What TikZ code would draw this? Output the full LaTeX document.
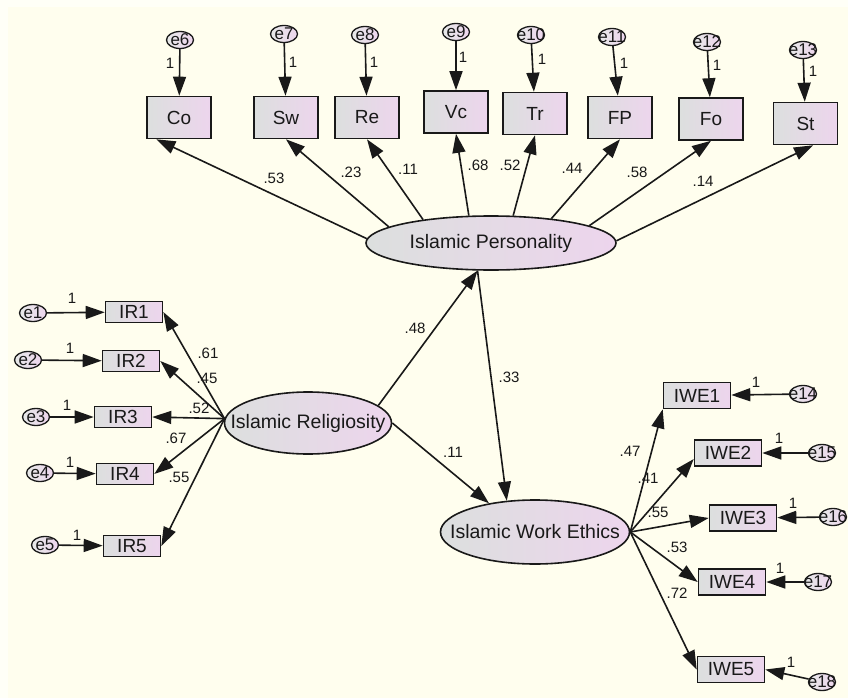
\documentclass[tikz,border=0pt]{standalone}
\usepackage{fontspec}
\setmainfont{Liberation Sans}
\usetikzlibrary{arrows.meta,shapes.geometric}

\definecolor{paper}{RGB}{255,254,238}
\definecolor{paperedge}{RGB}{255,255,247}
\definecolor{boxgray}{RGB}{220,223,222}
\definecolor{boxpink}{RGB}{237,213,237}
\definecolor{ink}{RGB}{25,25,25}

\tikzset{
    box/.style={draw=ink, line width=1.6pt, left color=boxgray, right color=boxpink,
        inner sep=0pt, text=ink, font=\fontsize{19}{19}\selectfont},
    topbox/.style={box, minimum width=64pt, minimum height=42pt},
    irbox/.style={box, minimum width=57pt, minimum height=21pt},
    iwebox/.style={box, minimum width=67pt, minimum height=26pt},
    latent/.style={ellipse, draw=ink, line width=1.6pt, left color=boxgray, right color=boxpink,
        inner xsep=-70pt, inner ysep=-4pt, text=ink, font=\fontsize{19.5}{19.5}\selectfont},
    err/.style={ellipse, draw=ink, line width=1.3pt, left color=boxgray!70!white, right color=boxpink,
        minimum width=27pt, minimum height=17pt, inner xsep=-12pt, inner ysep=-3pt, text=ink,
        font=\fontsize{17}{17}\selectfont},
    load/.style={draw=ink, line width=1.6pt, -{Triangle[length=19pt,width=13pt]}},
    coef/.style={inner sep=0pt, text=ink, font=\fontsize{15}{15}\selectfont},
}

\begin{document}
\begin{tikzpicture}[x=1pt, y=-1pt]
    \useasboundingbox (0,0) rectangle (848,698);
    \fill[paperedge] (0,0) rectangle (848,698);
    \fill[paper] (8,7) rectangle (848,698);

    % Islamic Personality
    \node[latent, minimum width=250pt, minimum height=54pt] (ip) at (491,243) {Islamic Personality};
    \node[topbox] (co) at (179,117.5) {Co};
    \node[topbox] (sw) at (286,117.5) {Sw};
    \node[topbox] (re) at (367,117.5) {Re};
    \node[topbox] (vc) at (456,112) {Vc};
    \node[topbox] (tr) at (535,113.5) {Tr};
    \node[topbox] (fp) at (620,117.5) {FP};
    \node[topbox] (fo) at (711,119) {Fo};
    \node[topbox] (st) at (805.5,123.5) {St};

    \node[err] (e6) at (180,40) {e6};
    \node[err] (e7) at (284,34) {e7};
    \node[err] (e8) at (365,35) {e8};
    \node[err] (e9) at (456,32) {e9};
    \node[err] (e10) at (531,35) {e10};
    \node[err] (e11) at (612,37) {e11};
    \node[err] (e12) at (707,42) {e12};
    \node[err] (e13) at (803,50) {e13};

    \draw[load] (e6) -- (co);
    \draw[load] (e7) -- (sw);
    \draw[load] (e8) -- (re);
    \draw[load] (e9) -- (vc);
    \draw[load] (e10) -- (tr);
    \draw[load] (e11) -- (fp);
    \draw[load] (e12) -- (fo);
    \draw[load] (e13) -- (st);
    \node[coef] (o6) at (170,63) {1};
    \node[coef] (o7) at (293,62) {1};
    \node[coef] (o8) at (374,62) {1};
    \node[coef] (o9) at (463,57) {1};
    \node[coef] (o10) at (542,59) {1};
    \node[coef] (o11) at (624,63) {1};
    \node[coef] (o12) at (717,65) {1};
    \node[coef] (o13) at (813,71) {1};

    \draw[load] (ip.178) -- (co.224);
    \draw[load] (ip.171) -- (sw.south);
    \draw[load] (ip.161) -- (re.south);
    \draw[load] (ip.129) -- (vc.south);
    \draw[load] (ip.51) -- (tr.south);
    \draw[load] (ip.22) -- (fp.south);
    \draw[load] (ip.10) -- (fo.south);
    \draw[load] (ip.1) -- (st.289);
    \node[coef] (cco) at (274,178) {.53};
    \node[coef] (csw) at (351,172) {.23};
    \node[coef] (cre) at (408,169) {.11};
    \node[coef] (cvc) at (478,165) {.68};
    \node[coef] (ctr) at (510,165) {.52};
    \node[coef] (cfp) at (572,168) {.44};
    \node[coef] (cfo) at (637,172) {.58};
    \node[coef] (cst) at (703,181) {.14};

    % Islamic Religiosity
    \node[latent, minimum width=167pt, minimum height=62pt] (ir) at (308,423) {Islamic Religiosity};
    \node[irbox] (ir1) at (134,312) {IR1};
    \node[irbox] (ir2) at (131,361) {IR2};
    \node[irbox] (ir3) at (123,417) {IR3};
    \node[irbox] (ir4) at (125,474) {IR4};
    \node[irbox] (ir5) at (132,546) {IR5};

    \node[err] (e1) at (33,313) {e1};
    \node[err] (e2) at (28,360) {e2};
    \node[err] (e3) at (36,417) {e3};
    \node[err] (e4) at (40,473) {e4};
    \node[err] (e5) at (45,545) {e5};

    \draw[load] (e1) -- (ir1);
    \draw[load] (e2) -- (ir2);
    \draw[load] (e3) -- (ir3);
    \draw[load] (e4) -- (ir4);
    \draw[load] (e5) -- (ir5);
    \node[coef] (o1) at (72,298) {1};
    \node[coef] (o2) at (70,348) {1};
    \node[coef] (o3) at (67,405) {1};
    \node[coef] (o4) at (70,462) {1};
    \node[coef] (o5) at (77,535) {1};

    \draw[load] (ir.177) -- (ir1.east);
    \draw[load] (ir.177) -- (ir2.east);
    \draw[load] (ir.177) -- (ir3.east);
    \draw[load] (ir.177) -- (ir4.east);
    \draw[load] (ir.177) -- (ir5.east);
    \node[coef] (cir1) at (208,353) {.61};
    \node[coef] (cir2) at (207,378) {.45};
    \node[coef] (cir3) at (199,408) {.52};
    \node[coef] (cir4) at (176,438) {.67};
    \node[coef] (cir5) at (179,477) {.55};

    % Islamic Work Ethics
    \node[latent, minimum width=189pt, minimum height=64pt] (iwe) at (535,532) {Islamic Work Ethics};
    \node[iwebox] (iwe1) at (697,395.5) {IWE1};
    \node[iwebox] (iwe2) at (728,453) {IWE2};
    \node[iwebox] (iwe3) at (743,518) {IWE3};
    \node[iwebox] (iwe4) at (732,582) {IWE4};
    \node[iwebox] (iwe5) at (731,669.5) {IWE5};

    \node[err] (e14) at (803,394) {e14};
    \node[err] (e15) at (822,453) {e15};
    \node[err] (e16) at (833,517) {e16};
    \node[err] (e17) at (818,582) {e17};
    \node[err] (e18) at (822,682) {e18};

    \draw[load] (e14) -- (iwe1);
    \draw[load] (e15) -- (iwe2);
    \draw[load] (e16) -- (iwe3);
    \draw[load] (e17) -- (iwe4);
    \draw[load] (e18) -- (iwe5.east);
    \node[coef] (o14) at (756,382) {1};
    \node[coef] (o15) at (779,438) {1};
    \node[coef] (o16) at (793,503) {1};
    \node[coef] (o17) at (780,568) {1};
    \node[coef] (o18) at (791,662) {1};

    \draw[load] (iwe.east) -- (iwe1.south west);
    \draw[load] (iwe.east) -- (iwe2.190);
    \draw[load] (iwe.east) -- (iwe3.west);
    \draw[load] (iwe.east) -- (iwe4.west);
    \draw[load] (iwe.east) -- (iwe5.west);
    \node[coef] (ciwe1) at (630,451) {.47};
    \node[coef] (ciwe2) at (648,478) {.41};
    \node[coef] (ciwe3) at (658,512) {.55};
    \node[coef] (ciwe4) at (677,547) {.53};
    \node[coef] (ciwe5) at (677,593) {.72};

    % Structural paths
    \draw[load] (ir.14) -- (ip.244);
    \draw[load] (ip.244) -- (iwe.132);
    \draw[load] (ir.east) -- (iwe.148);
    \node[coef] (cirip) at (415,328) {.48};
    \node[coef] (cipiwe) at (509,377) {.33};
    \node[coef] (ciriwe) at (453,452) {.11};

\end{tikzpicture}
\end{document}
